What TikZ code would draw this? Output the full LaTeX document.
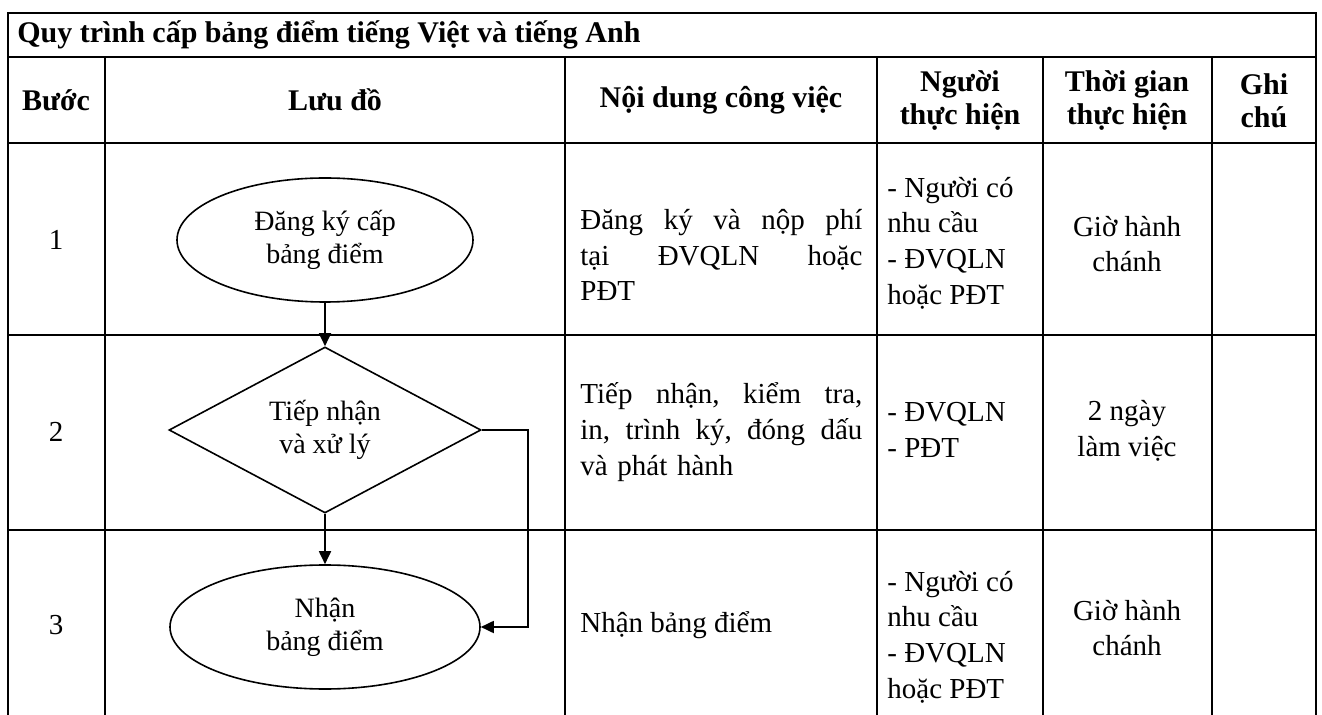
\documentclass[tikz,border=0pt]{standalone}
\usepackage{fontspec}
\setmainfont{Liberation Serif}
\usetikzlibrary{shapes.geometric,arrows.meta}

\begin{document}
\begin{tikzpicture}[x=0.5pt,y=-0.5pt]
\tikzstyle{dep}= [-{Triangle[length=6.5pt,width=6pt]},line width=0.9pt]
\tikzstyle{grid}= [line width=1.1pt]
\tikzstyle{oval}= [ellipse,draw,line width=0.8pt,align=center,inner sep=0pt,font=\fontsize{14}{16.5}\selectfont]
\tikzstyle{ask}= [diamond,draw,line width=0.8pt,align=center,inner sep=0pt,aspect=2,minimum width=156pt,minimum height=83pt,font=\fontsize{14}{16.5}\selectfont]
\tikzstyle{head}= [align=center,inner sep=0pt,font=\fontsize{15}{16.5}\selectfont\bfseries]
\tikzstyle{cell}= [inner sep=0pt,font=\fontsize{14.5}{17.8}\selectfont]

\useasboundingbox (0,0) rectangle (1322,715);

% table frame
\draw[grid] (8,715) -- (8,13) -- (1316,13) -- (1316,715);
\draw[grid] (8,57) -- (1316,57);
\foreach \y in {143,335,530}
	\draw[grid] (8,\y) -- (1316,\y);
\foreach \x in {105,565,877,1043,1212}
	\draw[grid] (\x,57) -- (\x,715);

% header
\path
	(17,35) node[head,anchor=west] (title) {Quy trình cấp bảng điểm tiếng Việt và tiếng Anh}
	(56,100) node[head] (hstep) {Bước}
	(335,100) node[head] (hflow) {Lưu đồ}
	(721,100) node[head] (hjob) {Nội dung công việc}
	(960,101) node[head] (hwho) {Người\\thực hiện}
	(1127,101) node[head] (htime) {Thời gian\\thực hiện}
	(1264,101) node[head] (hnote) {Ghi\\chú}
;

% step numbers
\path
	(56,240) node[cell] (n1) {1}
	(56,432) node[cell] (n2) {2}
	(56,625) node[cell] (n3) {3}
;

% flowchart
\path
	(325,240) node[oval,minimum width=148pt,minimum height=62pt] (reg) {Đăng ký cấp\\bảng điểm}
	(325,430) node[ask] (proc) {Tiếp nhận\\và xử lý}
	(325,627) node[oval,minimum width=155pt,minimum height=62pt] (recv) {Nhận\\bảng điểm}
;
\draw[dep] (reg) -- (proc.north);
\draw[dep] (proc.south) -- (recv.north);
\draw[dep] (proc.east) -- ++(46,0) |- (recv.east);

% job contents
\path
	(580,255) node[cell,anchor=west,text width=141pt] (job1)
		{Đăng\hfill ký\hfill và\hfill nộp\hfill phí\\tại\hfill ĐVQLN\hfill hoặc\\PĐT}
	(580,432) node[cell,anchor=west,text width=141pt] (job2)
		{Tiếp\hfill nhận,\hfill kiểm\hfill tra,\\in,\hfill trình\hfill ký,\hfill đóng\hfill dấu\\và phát hành}
	(580,625) node[cell,anchor=west] (job3) {Nhận bảng điểm}
;

% who
\path
	(887,243) node[cell,anchor=west,align=left] (who1) {- Người có\\nhu cầu\\- ĐVQLN\\hoặc PĐT}
	(887,430) node[cell,anchor=west,align=left] (who2) {- ĐVQLN\\- PĐT}
	(887,637) node[cell,anchor=west,align=left] (who3) {- Người có\\nhu cầu\\- ĐVQLN\\hoặc PĐT}
;

% time
\path
	(1127,244) node[cell,align=center] (time1) {Giờ hành\\chánh}
	(1127,431) node[cell,align=center] (time2) {2 ngày\\làm việc}
	(1127,628) node[cell,align=center] (time3) {Giờ hành\\chánh}
;
\end{tikzpicture}
\end{document}
